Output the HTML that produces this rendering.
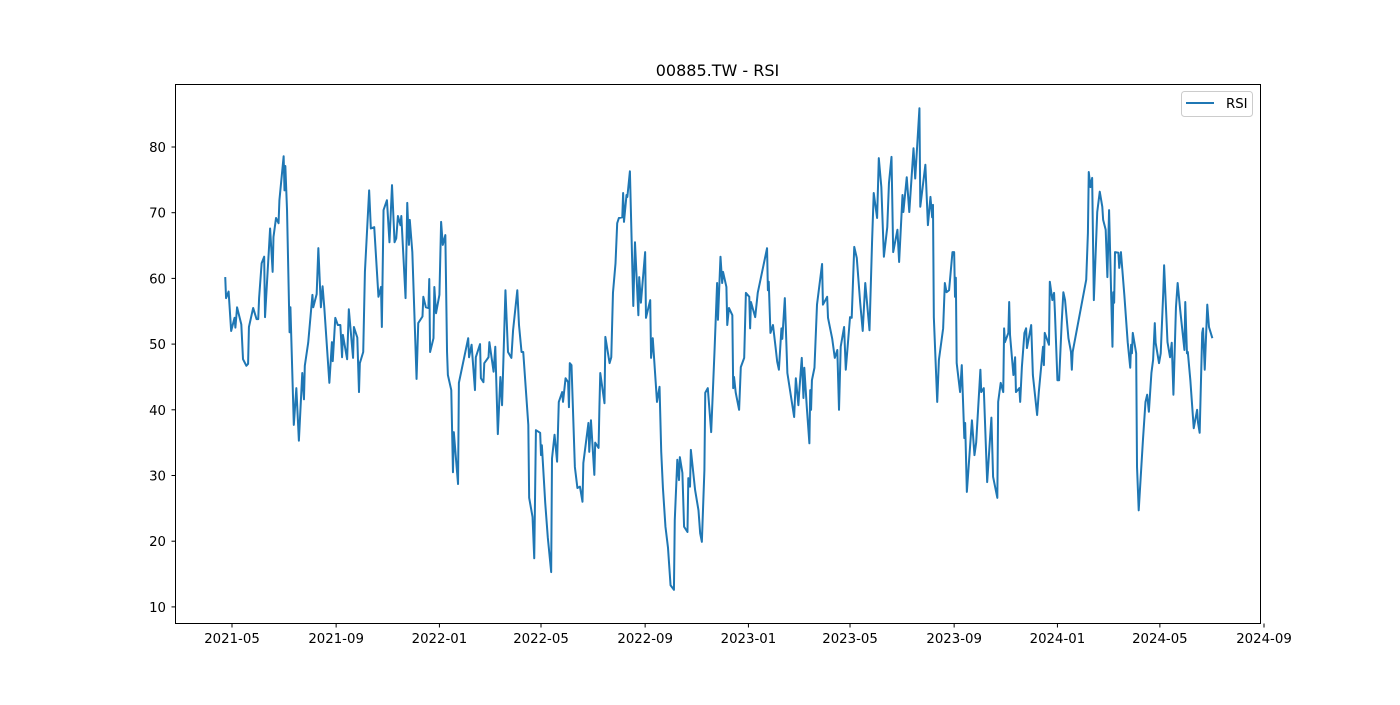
<!DOCTYPE html>
<html><head><meta charset="utf-8"><style>
body{margin:0;background:#fff;}
svg text{font-family:"DejaVu Sans","Liberation Sans",sans-serif;fill:#000;}
</style></head><body>
<svg id="chart" width="1400" height="700" viewBox="0 0 1400 700" xmlns="http://www.w3.org/2000/svg">
<rect width="1400" height="700" fill="#fff"/>
<text x="717.5" y="76" font-size="16" text-anchor="middle">00885.TW - RSI</text>
<g id="plot"></g>
<rect x="175.5" y="84.5" width="1085" height="539" fill="none" stroke="#000" stroke-width="1"/>
<g id="yaxis"></g>
<g id="xaxis"></g>
<g>
<rect x="1181.5" y="91.5" width="71" height="25" rx="3" fill="#fff" stroke="#ccc"/>
<line x1="1186" y1="103" x2="1214" y2="103" stroke="#1f77b4" stroke-width="2"/>
<text x="1226" y="108" font-size="13.3">RSI</text>
</g>
</svg>
<script>
const startDate = "2021-04-23";
const dayOffsets = [0,1,4,7,11,12,14,19,21,25,27,28,33,37,39,40,43,46,47,53,56,57,60,63,64,69,70,71,73,76,77,81,84,87,91,93,94,98,103,104,108,110,113,115,117,123,126,127,130,133,136,138,139,144,146,151,152,156,158,159,163,165,170,172,176,181,184,185,187,191,194,197,200,202,204,207,208,213,215,217,218,221,226,228,233,234,237,240,241,242,246,247,249,253,255,257,260,262,263,267,269,270,275,276,287,288,291,295,296,301,302,305,306,311,312,317,319,322,325,327,331,334,338,340,345,347,350,352,358,359,363,365,367,372,373,374,378,381,385,386,389,392,394,398,399,402,405,406,407,409,413,416,419,422,423,429,430,432,436,437,441,442,443,448,449,454,456,458,461,463,465,469,470,471,474,475,478,482,484,488,489,491,496,497,502,503,505,510,513,515,517,520,523,526,530,531,534,536,537,540,542,546,547,549,550,555,559,561,563,566,567,570,574,578,581,582,585,587,588,592,593,595,599,600,601,603,607,609,613,615,619,620,621,626,629,640,641,642,644,647,650,652,654,657,658,661,664,672,674,677,678,681,683,684,687,690,691,692,693,696,697,699,705,706,711,712,717,720,723,725,727,731,733,738,740,743,746,750,753,756,761,764,766,770,772,775,778,782,784,787,789,794,796,800,801,805,808,813,815,820,821,827,830,833,835,836,837,841,843,848,850,852,855,859,861,862,863,864,868,870,873,874,876,882,885,887,892,893,896,900,905,907,912,913,916,919,920,921,925,926,927,931,933,934,938,939,941,944,946,947,952,954,959,961,966,967,968,973,974,977,979,980,983,985,988,990,992,996,999,1000,1001,1017,1019,1020,1022,1024,1026,1030,1033,1036,1037,1040,1042,1044,1048,1049,1050,1051,1055,1056,1058,1062,1066,1069,1070,1071,1072,1076,1077,1079,1084,1087,1089,1091,1094,1096,1098,1099,1103,1105,1108,1109,1113,1116,1118,1120,1123,1125,1128,1133,1134,1136,1137,1140,1144,1148,1149,1151,1154,1155,1157,1160,1162,1166];
const rsiValues = [60.2,57,58,52,54,52.5,55.6,53,47.7,46.7,47,52.6,55.5,53.8,53.8,57,62.3,63.3,54.1,67.6,61,66.3,69.2,68.4,71.9,78.6,73.4,77.1,70.4,51.8,55.6,37.7,43.3,35.3,45.6,41.6,46.7,50.2,57.5,55.6,57.6,64.6,55.6,58.8,55.6,44.1,50.3,47.4,54,52.9,52.9,48,51.4,47.7,55.3,47.9,52.6,51,42.7,47.1,48.8,61,73.4,67.6,67.8,57.2,58.7,52.6,70.4,71.9,65.5,74.2,65.5,66.1,69.5,68.1,69.5,57,71.5,65.1,68.9,64,44.7,53.2,54.2,57.2,55.6,55.5,59.9,48.8,50.9,58.7,54.7,57.5,68.6,65.1,66.6,48.8,45.3,43,30.5,36.6,28.7,44.1,50.9,48,49.9,43,48,50,44.8,44.2,47.1,48,50.3,45.8,49.6,36.3,45,40.7,58.2,48.8,47.9,52.1,58.2,52.9,48.8,48.8,37.7,26.6,23.7,17.4,36.9,36.5,33.1,34.6,25.8,20.6,15.3,32.6,36.2,32.1,41.2,42.7,41.2,44.8,44.2,40.4,47.1,46.8,31.3,28.1,28.3,26,31.9,38,33.6,38.4,30.1,35,34.2,40.4,45.6,41,51.1,47.1,48,57.8,62.3,68.4,69.2,69.3,73,68.6,72.7,72.4,76.3,55.8,65.5,54.4,60.2,56.3,64,54,56.7,47.9,50.9,41.2,43.5,33.6,28.1,22.2,19,13.3,12.6,23.2,32.4,29.3,32.8,30.4,22.2,21.4,29.6,28.3,33.9,27.8,24.7,21.2,19.9,30.8,42.6,43.3,36.6,49.1,59.3,53.7,63.3,59.3,61,58.7,52.9,55.5,54.4,43.3,45,42.6,40,46.5,47.9,57.8,57.2,52.4,56.4,54.1,57.8,64.6,58.2,59.5,51.7,52.9,49.6,47.3,46.1,52.4,50.8,57,45.6,38.9,44.8,40.7,42.7,47.9,41.8,46.4,40.3,34.9,43,40,44.5,46.4,49.6,56,62.2,56,57.2,54,50.8,47.9,49.1,40,49.6,52.6,46.1,54.1,54,64.8,63.1,56.3,52,59.3,52.1,65.4,73,69.2,78.3,73.9,63.3,67.8,74.5,78.5,64,67.4,62.5,72.7,70.1,75.4,70.1,79.8,75.2,85.9,70.9,77.3,68.1,72.4,69.3,71.2,54.1,41.2,47.6,52.4,59.3,57.9,58.2,64,64,57.2,60.1,47.1,42.7,46.8,35.7,38,27.5,38.4,33.1,35,46.1,42.7,43.3,29,38.8,29.8,26.6,41.2,44.1,42.7,52.4,50.3,51.7,56.4,51.4,45.3,48,42.7,43.3,41.2,46.5,51.7,52.4,49.4,52.9,45.3,39.2,42.7,49.6,46.8,51.7,49.9,59.5,56.7,57.8,54.9,44.5,44.5,53.2,57.9,56.7,50.9,48.8,46.1,48.8,59.8,66.9,76.2,73.9,75.3,56.7,70.1,73.2,70.9,68.9,67.4,60.2,70.4,49.6,57.9,56.3,64,63.9,61.6,64,57.5,50.3,46.4,49.9,48.6,51.7,48.6,31.3,24.7,35.4,41.2,42.3,39.7,45.6,47.6,53.2,50.2,47.1,48.6,57.9,62,50.3,48,50.2,42.3,55.6,59.3,55.2,49.1,56.4,48.6,48.8,44.5,37.2,40,38.1,36.5,51.7,52.4,46.1,56,52.6,50.9];
const yTicks = [10,20,30,40,50,60,70,80];
const xTickLabels = ["2021-05","2021-09","2022-01","2022-05","2022-09","2023-01","2023-05","2023-09","2024-01","2024-05","2024-09"];

const NS = "http://www.w3.org/2000/svg";
const DAY = 86400000;
const t0 = Date.parse(startDate + "T00:00:00Z");
const refDay = (Date.parse("2021-05-01T00:00:00Z") - t0) / DAY;
const pxPerDay = 0.8466;
function xScale(d){ return 232 + (d - refDay) * pxPerDay; }
function yScale(v){ return 147 + (80 - v) * 6.57; }

const plot = document.getElementById("plot");
let dstr = "";
for (let i = 0; i < rsiValues.length; i++) {
  dstr += (i ? "L" : "M") + xScale(dayOffsets[i]).toFixed(2) + "," + yScale(rsiValues[i]).toFixed(2);
}
const path = document.createElementNS(NS, "path");
path.setAttribute("d", dstr);
path.setAttribute("fill", "none");
path.setAttribute("stroke", "#1f77b4");
path.setAttribute("stroke-width", "2");
path.setAttribute("stroke-linejoin", "round");


plot.appendChild(path);

const ya = document.getElementById("yaxis");
yTicks.forEach(v => {
  const y = yScale(v);
  const l = document.createElementNS(NS, "line");
  l.setAttribute("x1", 171.5); l.setAttribute("x2", 175.5);
  l.setAttribute("y1", y); l.setAttribute("y2", y);
  l.setAttribute("stroke", "#000");
  
  
  ya.appendChild(l);
  const t = document.createElementNS(NS, "text");
  t.setAttribute("x", 166); t.setAttribute("y", y + 5);
  t.setAttribute("font-size", "13.3");
  t.setAttribute("text-anchor", "end");
  t.textContent = v;
  
  
  ya.appendChild(t);
});

const xa = document.getElementById("xaxis");
xTickLabels.forEach(lab => {
  const d = (Date.parse(lab + "-01T00:00:00Z") - t0) / DAY;
  const x = xScale(d);
  const l = document.createElementNS(NS, "line");
  l.setAttribute("x1", x); l.setAttribute("x2", x);
  l.setAttribute("y1", 623.5); l.setAttribute("y2", 627.5);
  l.setAttribute("stroke", "#000");
  
  
  xa.appendChild(l);
  const t = document.createElementNS(NS, "text");
  t.setAttribute("x", x); t.setAttribute("y", 643);
  t.setAttribute("font-size", "13.3");
  t.setAttribute("text-anchor", "middle");
  t.textContent = lab;
  
  
  xa.appendChild(t);
});
</script>
</body></html>
